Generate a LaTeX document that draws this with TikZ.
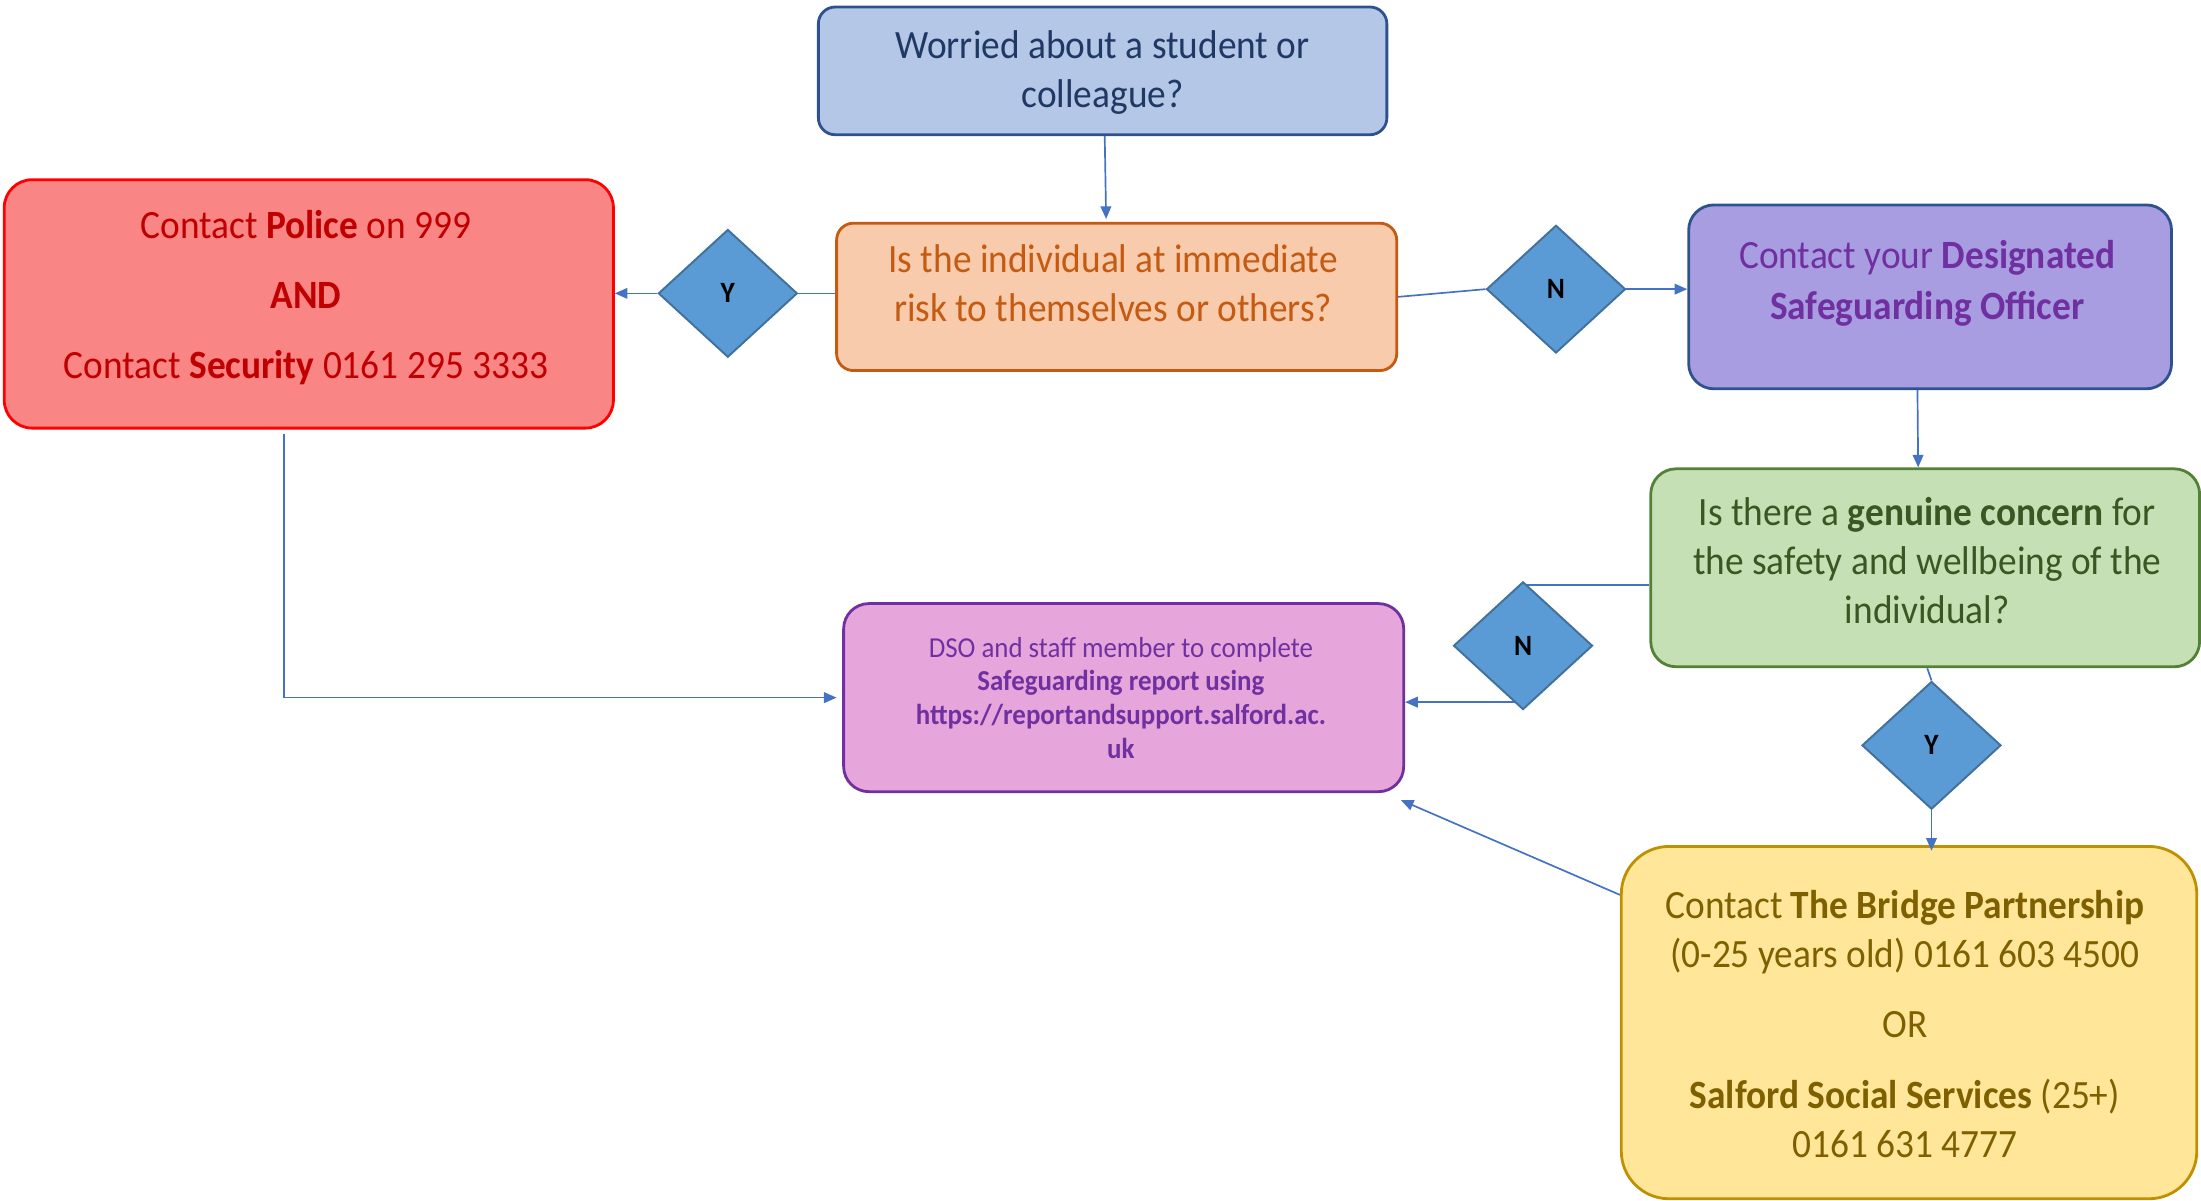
\documentclass[tikz,border=0pt]{standalone}
\usepackage{fontspec}
\setmainfont{Carlito}[FakeStretch=0.93]
\usetikzlibrary{shapes.geometric,arrows.meta,backgrounds,calc}
\definecolor{qafill}{HTML}{B4C7E7}
\definecolor{qaline}{HTML}{2F528F}
\definecolor{qatext}{HTML}{1F3864}
\definecolor{qbfill}{HTML}{F8CBAD}
\definecolor{qbline}{HTML}{C55A11}
\definecolor{qbtext}{HTML}{C55A11}
\definecolor{redfill}{HTML}{FA8585}
\definecolor{redline}{HTML}{FF0000}
\definecolor{redtext}{HTML}{C00000}
\definecolor{purfill}{HTML}{A99DE2}
\definecolor{purline}{HTML}{2F528F}
\definecolor{purtext}{HTML}{7030A0}
\definecolor{grnfill}{HTML}{C5E0B4}
\definecolor{grnline}{HTML}{538135}
\definecolor{grntext}{HTML}{385723}
\definecolor{pnkfill}{HTML}{E6A6DC}
\definecolor{pnkline}{HTML}{7030A0}
\definecolor{pnktext}{HTML}{7030A0}
\definecolor{ylwfill}{HTML}{FFE699}
\definecolor{ylwline}{HTML}{BF9000}
\definecolor{ylwtext}{HTML}{7F6000}
\definecolor{dmdfill}{HTML}{5B9BD5}
\definecolor{dmdline}{HTML}{41719C}
\definecolor{arrowblue}{HTML}{4472C4}
\begin{document}
\begin{tikzpicture}[x=0.5pt,y=-0.5pt,
  box/.style={draw, rectangle, line width=1pt, inner sep=0pt},
  txt/.style={align=center, inner sep=0pt, font=\fontsize{14.3}{17.5}\selectfont},
  smalltxt/.style={align=center, inner sep=0pt, font=\fontsize{10.3}{12}\selectfont},
  decision/.style={diamond, draw=dmdline, fill=dmdfill, line width=0.7pt,
    minimum width=49.5pt, minimum height=45.5pt, inner sep=0pt,
    font=\bfseries\fontsize{10.5}{12}\selectfont},
  conn/.style={draw=arrowblue, line width=0.6pt},
  arr/.style={conn, -{Triangle[length=4.5pt,width=3.8pt]}}
]
\useasboundingbox (0,0) rectangle (1568,855);
% boxes
\node[box, draw=qaline, fill=qafill, rounded corners=6pt, minimum width=202.5pt, minimum height=45.5pt] (q1) at (785.5,50.5) {};
\node[txt, text=qatext] (q1t) at (785.5,51.5) {Worried about a student or\\colleague?};
\node[box, draw=qbline, fill=qbfill, rounded corners=6pt, minimum width=199.5pt, minimum height=52.5pt] (q2) at (795.5,211.5) {};
\node[txt, text=qbtext] (q2t) at (793,202) {Is the individual at immediate\\risk to themselves or others?};
\node[box, draw=redline, fill=redfill, rounded corners=10pt, minimum width=217pt, minimum height=88.5pt] (red) at (220,216.5) {};
\node[txt, text=redtext] (redt) at (218,212) {Contact \textbf{Police} on 999\\[7.5pt]\textbf{AND}\\[7.5pt]Contact \textbf{Security} 0161 295 3333};
\node[box, draw=purline, fill=purfill, rounded corners=9pt, minimum width=172pt, minimum height=65.5pt] (pur) at (1375,211.5) {};
\node[txt, text=purtext] (purt) at (1373,202) {Contact your \textbf{Designated}\\[0.5pt]\textbf{Safeguarding Officer}};
\node[box, draw=grnline, fill=grnfill, rounded corners=9pt, minimum width=195.5pt, minimum height=70.5pt] (grn) at (1371.5,404.5) {};
\node[txt, text=grntext] (grnt) at (1373,399.5) {Is there a \textbf{genuine concern} for\\the safety and wellbeing of the\\individual?};
\node[box, draw=pnkline, fill=pnkfill, rounded corners=9pt, minimum width=199.5pt, minimum height=67pt] (pnk) at (800.5,497) {};
\node[smalltxt, text=pnktext] (pnkt) at (798.5,497) {DSO and staff member to complete\\\textbf{Safeguarding report using}\\\textbf{https://reportandsupport.salford.ac.}\\\textbf{uk}};
\node[box, draw=ylwline, fill=ylwfill, rounded corners=17pt, minimum width=205pt, minimum height=125.5pt] (ylw) at (1360,728.5) {};
\node[txt, text=ylwtext] (ylwt) at (1357,729.5) {Contact \textbf{The Bridge Partnership}\\(0-25 years old) 0161 603 4500\\[7.5pt]OR\\[7.5pt]\textbf{Salford Social Services} (25+)\\0161 631 4777};
% decisions
\node[decision] (y1) at (518.5,209) {Y};
\node[decision] (n1) at (1108.5,206) {N};
\node[decision] (n2) at (1085,460) {N};
\node[decision] (y2) at (1376,531) {Y};
% connectors
\begin{scope}[on background layer]
\draw[conn] ([yshift=-1.5pt]n2.north) -- ([yshift=-1.5pt]n2.north -| grn.west);
\draw[arr] ([yshift=3pt]n2.south) -- ([yshift=3pt]n2.south -| pnk.east);
\end{scope}
\draw[arr] ([xshift=0.75pt]q1.south) -- ([xshift=-3.75pt,yshift=1pt]q2.north);
\draw[conn] (q2.west |- y1.east) -- (y1.east);
\draw[arr] (y1.west) -- (y1.west -| red.east);
\draw[conn] (q2.east) -- (n1.west);
\draw[arr] (n1.east) -- (n1.east -| pur.west);
\draw[arr] ([xshift=-4.5pt]pur.south) -- ([xshift=-2.5pt]grn.north);
\draw[arr] ([xshift=-8.75pt,yshift=-1.5pt]red.south) |- ([xshift=-2pt]pnk.west);
\draw[conn] ([xshift=0.75pt]grn.south) -- (y2.north);
\draw[arr] (y2.south) -- ([yshift=-2pt]y2.south |- ylw.north);
\draw[arr] ([yshift=45.5pt]ylw.west) -- ([xshift=-1.5pt,yshift=-2.5pt]pnk.south east);
\end{tikzpicture}
\end{document}
